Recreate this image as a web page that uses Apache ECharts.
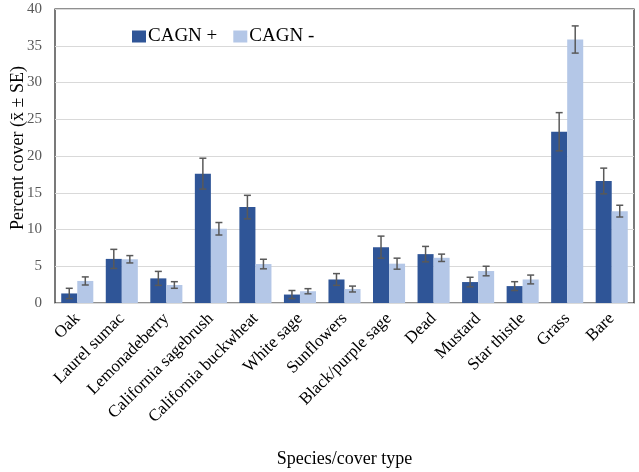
<!DOCTYPE html>
<html>
<head>
<meta charset="utf-8">
<script src="https://cdn.jsdelivr.net/npm/echarts@6/dist/echarts.min.js"></script>
<style>
  html, body { margin: 0; padding: 0; background: #fff; }
  #chart { width: 639px; height: 472px; }
</style>
</head>
<body>
<div id="chart"></div>
<script>
const categories = ['Oak', 'Laurel sumac', 'Lemonadeberry', 'California sagebrush', 'California buckwheat',
  'White sage', 'Sunflowers', 'Black/purple sage', 'Dead', 'Mustard', 'Star thistle', 'Grass', 'Bare']

// CAGN + (present)
const plusMean = [1.3, 6.0, 3.35, 17.6, 13.05, 1.15, 3.2, 7.6, 6.65, 2.85, 2.3, 23.3, 16.6]
const plusSE = [0.7, 1.3, 0.95, 2.1, 1.6, 0.55, 0.8, 1.5, 1.05, 0.65, 0.6, 2.6, 1.75]

// CAGN - (absent)
const minusMean = [3.0, 5.95, 2.45, 10.1, 5.3, 1.6, 1.9, 5.35, 6.15, 4.35, 3.2, 35.85, 12.5]
const minusSE = [0.55, 0.5, 0.45, 0.85, 0.65, 0.35, 0.4, 0.75, 0.5, 0.65, 0.6, 1.85, 0.8]

const catGap = 0.28
const errColor = '#595959'
const serif = '"Liberation Serif", "Times New Roman", serif'

// error bars sit on top of each bar; side = -1 left bar, +1 right bar
function errorBars (name, means, ses, side) {
  return {
    name: name,
    type: 'custom',
    z: 10,
    silent: true,
    data: means.map((m, i) => [i, m - ses[i], m + ses[i]]),
    renderItem (params, api) {
      const band = api.size([1, 0])[0]
      const barW = band * (1 - catGap) / 2
      const x = api.coord([api.value(0), 0])[0] + side * barW / 2
      const lo = api.coord([api.value(0), api.value(1)])[1]
      const hi = api.coord([api.value(0), api.value(2)])[1]
      const cap = 3.5
      const style = { stroke: errColor, lineWidth: 1.5 }
      return {
        type: 'group',
        children: [
          { type: 'line', shape: { x1: x, y1: lo, x2: x, y2: hi }, style: style },
          { type: 'line', shape: { x1: x - cap, y1: lo, x2: x + cap, y2: lo }, style: style },
          { type: 'line', shape: { x1: x - cap, y1: hi, x2: x + cap, y2: hi }, style: style }
        ]
      }
    }
  }
}

const chart = echarts.init(document.getElementById('chart'))
chart.setOption({
  animation: false,
  textStyle: { fontFamily: serif },
  legend: {
    data: ['CAGN +', 'CAGN -'],
    left: 127,
    top: 22,
    itemWidth: 14,
    itemHeight: 12,
    itemGap: 16,
    icon: 'rect',
    textStyle: { fontFamily: serif, fontSize: 19, color: '#000', padding: [0, 0, 0, -3] }
  },
  grid: {
    left: 55,
    right: 5,
    top: 9,
    bottom: 169,
    outerBoundsMode: 'none',
    show: true,
    borderColor: '#222',
    borderWidth: 1.2
  },
  xAxis: {
    type: 'category',
    data: categories,
    axisTick: { show: false },
    axisLine: { show: false },
    axisLabel: {
      rotate: 45,
      interval: 0,
      margin: 13,
      fontFamily: serif,
      fontSize: 17,
      color: '#000'
    },
    name: 'Species/cover type',
    nameLocation: 'middle',
    nameGap: 147,
    nameMoveOverlap: false,
    nameTextStyle: { fontFamily: serif, fontSize: 18, color: '#000' }
  },
  yAxis: {
    type: 'value',
    min: 0,
    max: 40,
    interval: 5,
    axisLine: { show: false },
    axisTick: { show: false },
    splitLine: { lineStyle: { color: '#d9d9d9', width: 1.2 } },
    axisLabel: { fontFamily: serif, fontSize: 15, color: '#595959', margin: 13 },
    name: 'Percent cover (x\u0304 \u00b1 SE)',
    nameLocation: 'middle',
    nameGap: 28,
    nameMoveOverlap: false,
    nameTextStyle: { fontFamily: serif, fontSize: 18, color: '#000', padding: [0, 0, 0, 16] }
  },
  series: [
    {
      name: 'CAGN +',
      type: 'bar',
      data: plusMean,
      barGap: '0%',
      barCategoryGap: catGap * 100 + '%',
      itemStyle: { color: '#2f5597' }
    },
    {
      name: 'CAGN -',
      type: 'bar',
      data: minusMean,
      itemStyle: { color: '#b4c7e7' }
    },
    errorBars('err +', plusMean, plusSE, -1),
    errorBars('err -', minusMean, minusSE, 1)
  ]
})
</script>
</body>
</html>
